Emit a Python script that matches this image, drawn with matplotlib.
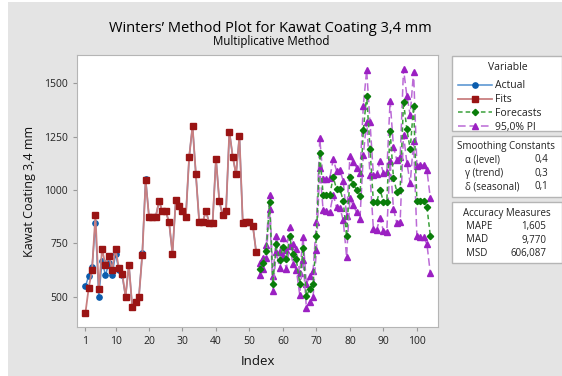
import numpy as np
import matplotlib.pyplot as plt
from matplotlib.lines import Line2D
from matplotlib.patches import Rectangle

plt.rcParams['font.family'] = ['Open Sans', 'DejaVu Sans']

# data
actual = [547, 597, 637, 845, 500, 668, 599, 657, 599, 701, 626, 599, 500, 649, 450, 476, 500, 704,
          1053, 874, 874, 874, 947, 900, 900, 848, 701, 952, 924, 900, 874, 1156, 1300, 1073, 848, 848,
          900, 845, 847, 1147, 947, 881, 900, 1274, 1156, 1073, 1253, 847, 848, 850, 833, 709]
fits = [422, 540, 626, 881, 535, 723, 646, 692, 626, 723, 634, 607, 500, 649, 450, 476, 500, 696,
        1045, 874, 874, 874, 947, 900, 900, 848, 701, 952, 924, 900, 874, 1156, 1300, 1073, 848, 848,
        900, 845, 847, 1147, 947, 881, 900, 1274, 1156, 1073, 1253, 847, 848, 850, 833, 709]
forecasts = [630, 655, 712, 944, 560, 748, 672, 732, 674, 782, 700, 674, 560, 726, 503, 535, 560, 785,
             1172, 977, 977, 977, 1060, 1005, 1005, 950, 782, 1060, 1029, 1000, 973, 1280, 1442, 1194,
             944, 944, 1002, 944, 944, 1277, 1057, 992, 1002, 1413, 1285, 1191, 1392, 947, 947, 947, 919, 786]
pi_upper = [657, 683, 742, 976, 595, 785, 711, 773, 717, 827, 747, 723, 611, 779, 559, 594, 622, 851,
            1242, 1050, 1053, 1056, 1143, 1091, 1094, 1042, 877, 1158, 1131, 1105, 1081, 1395, 1563, 1318,
            1071, 1074, 1135, 1080, 1083, 1419, 1202, 1140, 1153, 1567, 1442, 1351, 1555, 1112, 1115, 1117, 1092, 962]
pi_lower = [603, 627, 682, 912, 525, 711, 633, 691, 631, 737, 653, 625, 509, 673, 447, 476, 498, 719,
            1102, 904, 901, 898, 977, 919, 916, 858, 687, 962, 927, 895, 865, 1165, 1321, 1070,
            817, 814, 869, 808, 805, 1135, 912, 844, 851, 1259, 1128, 1031, 1229, 782, 779, 777, 746, 610]

idx_fit = np.arange(1, len(actual) + 1)
idx_fc = np.arange(len(actual) + 1, len(actual) + len(forecasts) + 1)

xticks = [1, 10, 20, 30, 40, 50, 60, 70, 80, 90, 100]
yticks = [500, 750, 1000, 1250, 1500]

W, H = 562, 376
def fx(x):
    return x / W
def fy(y):
    return 1 - y / H

fig = plt.figure(figsize=(W / 100, H / 100), dpi=100, facecolor='white')
bg = '#e4e4e4'
fig.patches.append(Rectangle((fx(8), 0), 1 - fx(8), fy(2), transform=fig.transFigure,
                             facecolor=bg, edgecolor='none', zorder=-10))

ax = fig.add_axes([fx(77), fy(327), fx(438) - fx(77), fy(55) - fy(327)])
ax.set_facecolor('white')
for s in ax.spines.values():
    s.set_color('#b5b5b5')

c_act, c_act_l = '#0b5cad', '#4f8fd0'
c_fit, c_fit_l = '#9a1414', '#c97f80'
c_fc, c_fc_l = '#0a7d0a', '#3aa03a'
c_pi, c_pi_l = '#9b20c2', '#bb6ad6'

st_act = dict(color=c_act_l, lw=1.1, marker='o', ms=3.8, mfc=c_act, mec=c_act)
st_fit = dict(color=c_fit_l, lw=1.3, marker='s', ms=3.9, mfc=c_fit, mec=c_fit)
st_fc = dict(color=c_fc_l, lw=1.1, ls=(0, (3, 2)), marker='D', ms=3.2, mfc=c_fc, mec=c_fc)
st_pi = dict(color=c_pi_l, lw=1.1, ls=(0, (5, 2.5)), marker='^', ms=4.5, mfc=c_pi, mec=c_pi)

ax.plot(idx_fit, actual, zorder=3, **st_act)
ax.plot(idx_fit, fits, zorder=4, **st_fit)
ax.plot(idx_fc, pi_upper, zorder=3, **st_pi)
ax.plot(idx_fc, pi_lower, zorder=3, **st_pi)
ax.plot(idx_fc, forecasts, zorder=5, **st_fc)

ax.set_xlim(-1.5, 106.3)
ax.set_ylim(357, 1633)
ax.set_xticks(xticks)
ax.set_yticks(yticks)
ax.tick_params(labelsize=7.5, colors='#222222', length=3, width=0.8, color='#999999')
ax.set_xlabel('Index', fontsize=9.5, color='#111111', labelpad=6)
ax.set_ylabel('Kawat Coating 3,4 mm', fontsize=9, color='#111111', labelpad=6)

fig.text(fx(270), fy(28), 'Winters\u2019 Method Plot for Kawat Coating 3,4 mm', ha='center', va='center',
         fontsize=10.5, color='#000000')
fig.text(fx(271), fy(41), 'Multiplicative Method', ha='center', va='center', fontsize=8.3,
         color='#000000')

# boxes on the right
for top, bot in [(56, 131), (136, 197), (202, 263)]:
    fig.patches.append(Rectangle((fx(452), fy(bot)), fx(561.5) - fx(452), fy(top) - fy(bot),
                                 transform=fig.transFigure, facecolor='white', edgecolor='#b5b5b5', lw=1))

handles = [Line2D([], [], **st_act), Line2D([], [], **st_fit),
           Line2D([], [], **st_fc), Line2D([], [], **st_pi)]
labels = ['Actual', 'Fits', 'Forecasts', '95,0% PI']
fig.text(fx(508), fy(67), 'Variable', ha='center', va='center', fontsize=7.5, color='#222222')
leg = fig.legend(handles, labels, loc='upper left', bbox_to_anchor=(fx(451), fy(73)), frameon=False,
                 fontsize=7.5, handlelength=3.2, handletextpad=0.3, labelspacing=0.28, borderpad=0.2)
for t in leg.get_texts():
    t.set_color('#222222')

fs = 7
fig.text(fx(457), fy(147), 'Smoothing Constants', ha='left', va='center', fontsize=fs, color='#222222')
rows = [('\u03b1 (level)', '0,4'), ('\u03b3 (trend)', '0,3'), ('\u03b4 (seasonal)', '0,1')]
for k, (a, b) in enumerate(rows):
    y = 160 + k * 13.3
    fig.text(fx(465), fy(y), a, ha='left', va='center', fontsize=fs, color='#222222')
    fig.text(fx(548), fy(y), b, ha='right', va='center', fontsize=fs, color='#222222')

fig.text(fx(463), fy(213), 'Accuracy Measures', ha='left', va='center', fontsize=fs, color='#222222')
rows = [('MAPE', '1,605'), ('MAD', '9,770'), ('MSD', '606,087')]
for k, (a, b) in enumerate(rows):
    y = 226.7 + k * 13.3
    fig.text(fx(466), fy(y), a, ha='left', va='center', fontsize=fs, color='#222222')
    fig.text(fx(546.5), fy(y), b, ha='right', va='center', fontsize=fs, color='#222222')

fig.savefig('out.png', dpi=100, facecolor=fig.get_facecolor())
